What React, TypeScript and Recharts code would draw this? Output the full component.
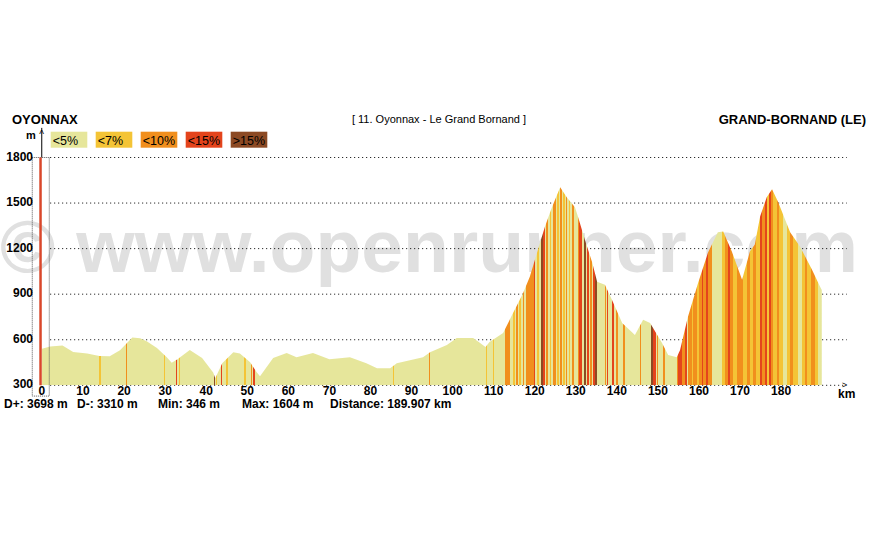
import React from 'react';
import { ComposedChart, Area, XAxis, YAxis, ReferenceLine, ReferenceArea } from 'recharts';

const FONT = '"Liberation Sans", Arial, Helvetica, sans-serif';

// distance along the route (km) and elevation (m), read from the profile
const kmPoints = [
  0, 2, 5, 7.6, 11, 14, 16.5, 19, 20.7, 22, 23.9, 25.5, 28, 30.4, 31.6, 33, 36, 39, 41.7, 42.2,
  43.9, 46.6, 48.2, 50.7, 52.3, 53.1, 56.3, 59.6, 62, 66, 70, 75, 79, 81.6, 84.8, 86.4, 92.8, 94.5,
  98.6, 101, 105, 106.7, 108, 109, 112.3, 114.5, 116, 117.2, 118.8, 120.8, 122.5, 124.2, 126.2,
  127.8, 129.8, 130.5, 132.2, 134, 135.2, 137.1, 138.8, 141.3, 144.4, 146.4, 148.1, 151, 152.5,
  154.6, 155.4, 157.3, 159.8, 162.2, 164.6, 165.9, 168, 170.5, 172.4, 173.6, 174.9, 176.5, 177.8,
  179.3, 182.2, 184.6, 187.5, 189.5, 189.907,
];
const elevation = [
  540, 555, 562, 520, 510, 493, 492, 530, 578, 615, 610, 590, 545, 485, 448, 472, 532, 480, 385, 346,
  446, 518, 510, 452, 386, 360, 479, 512, 485, 512, 472, 485, 446, 413, 413, 446, 485, 518,
  565, 611, 611, 578, 552, 585, 644, 764, 843, 909, 1015, 1194, 1346, 1472, 1604,
  1538, 1472, 1413, 1260, 1108, 982, 962, 863, 711, 631, 731, 711, 578, 499,
  485, 532, 750, 975, 1174, 1307, 1313, 1181, 995, 1181, 1227, 1413, 1538, 1591,
  1505, 1307, 1214, 1062, 949, 928,
];

// gradient strips: [start km, end km, category index]
const strips: [number, number, number][] = [
  [14.0, 14.3, 1], [20.4, 20.7, 2], [29.7, 30.0, 1], [32.6, 32.9, 3], [33.3, 33.6, 1],
  [41.9, 42.2, 4], [42.3, 42.7, 1], [43.6, 43.9, 3], [44.9, 45.2, 1], [49.3, 49.6, 1],
  [50.9, 51.2, 2], [51.5, 51.8, 3], [85.4, 85.7, 1], [93.9, 94.1, 1], [94.3, 94.6, 2],
  [108.1, 108.4, 1], [109.8, 110.1, 1], [112.8, 114.1, 2], [114.8, 115.1, 1], [115.4, 115.9, 2],
  [116.2, 116.6, 1], [117.1, 117.5, 2], [117.9, 119.8, 2], [119.8, 120.1, 3], [120.6, 121.1, 1],
  [121.6, 122.1, 4], [122.1, 122.6, 3], [122.7, 123.3, 2], [123.7, 124.0, 1], [124.4, 125.2, 2],
  [125.5, 125.8, 1], [126.1, 126.6, 2], [127.0, 127.3, 1], [127.6, 127.9, 2], [128.4, 128.7, 1],
  [129.2, 129.6, 2], [130.5, 130.9, 2], [130.9, 131.6, 3], [132.1, 132.6, 4], [132.7, 133.2, 3],
  [133.5, 133.9, 2], [134.3, 134.7, 3], [134.7, 135.1, 4], [137.0, 137.3, 2], [137.5, 137.9, 3],
  [138.9, 139.2, 3], [139.9, 140.4, 2], [141.6, 142.0, 2], [145.6, 145.9, 2], [148.3, 148.9, 4],
  [148.9, 149.5, 3], [149.7, 150.1, 2], [151.3, 151.7, 2], [154.6, 155.0, 2], [155.0, 155.8, 3],
  [155.8, 156.6, 2], [156.6, 157.2, 3], [157.4, 158.2, 2], [158.2, 158.6, 1], [158.6, 159.4, 2],
  [159.4, 160.0, 1], [160.0, 160.7, 2], [160.7, 161.1, 3], [161.1, 161.6, 2], [161.6, 162.3, 3],
  [162.3, 163.1, 2], [164.3, 164.5, 1], [165.5, 166.3, 1], [166.3, 167.0, 2], [167.0, 167.6, 3],
  [167.6, 168.4, 2], [168.4, 169.2, 1], [169.2, 170.8, 2], [170.8, 171.6, 1], [171.6, 172.4, 2],
  [172.4, 173.2, 1], [173.2, 174.0, 2], [174.0, 174.9, 1], [174.9, 175.4, 3], [175.4, 176.0, 2],
  [176.0, 176.5, 3], [176.5, 177.0, 1], [177.0, 177.5, 3], [177.5, 178.1, 2], [178.1, 178.9, 1],
  [178.9, 179.6, 2], [179.6, 180.5, 1], [181.4, 182.2, 1], [182.2, 183.0, 2], [183.0, 184.2, 1],
  [185.0, 185.8, 1], [185.8, 186.2, 2], [186.2, 187.4, 1], [187.4, 188.3, 2], [188.3, 189.1, 1],
];

const categoryLabels = ['<5%', '<7%', '<10%', '<15%', '>15%'];
const categoryColors = ['#e6e69b', '#f4c436', '#f18f1d', '#e4441c', '#8c4a24'];

const xTicks = [0, 10, 20, 30, 40, 50, 60, 70, 80, 90, 100, 110, 120, 130, 140, 150, 160, 170, 180];
const yTicks = [300, 600, 900, 1200, 1500, 1800];
const gridLevels = [600, 900, 1200, 1500, 1800];

const startName = 'OYONNAX';
const endName = 'GRAND-BORNAND (LE)';
const stageTitle = '[ 11. Oyonnax - Le Grand Bornand ]';
const statTexts = ['D+: 3698 m', 'D-: 3310 m', 'Min: 346 m', 'Max: 1604 m', 'Distance: 189.907 km'];
const statX = [4, 77, 158, 242, 330];

const X_DOMAIN: [number, number] = [-2.5, 196];
const Y_DOMAIN: [number, number] = [300, 1800];

const XTick = (props: any) => (
  <text x={props.x} y={props.y + 10} textAnchor="middle" fontFamily={FONT} fontWeight="bold" fontSize={12} fill="#000">
    {props.payload.value}
  </text>
);
const YTick = (props: any) => (
  <text x={props.x + 1.3} y={props.y + 3} textAnchor="end" fontFamily={FONT} fontWeight="bold" fontSize={12} fill="#000">
    {props.payload.value}
  </text>
);

export default function App() {
  const data = kmPoints.map((km, i) => ({ km, ele: elevation[i] }));
  const k0 = kmPoints[0];
  const total = kmPoints[kmPoints.length - 1] - k0;
  const base = categoryColors[0];
  const stops: React.ReactNode[] = [];
  let n = 0;
  const push = (off: number, color: string) =>
    stops.push(<stop key={n++} offset={Math.min(1, Math.max(0, off))} stopColor={color} />);
  push(0, base);
  strips.forEach(([a, b, c]) => {
    const oa = (a - k0) / total;
    const ob = (b - k0) / total;
    push(oa, base);
    push(oa, categoryColors[c]);
    push(ob, categoryColors[c]);
    push(ob, base);
  });
  push(1, base);

  return (
    <div style={{ position: 'absolute', left: 0, top: 0, width: 873, height: 540, background: '#fff', overflow: 'hidden' }}>
      <svg width={873} height={540} style={{ position: 'absolute', left: 0, top: 0 }}>
        <text x={0} y={272} fontFamily={FONT} fontWeight="bold" fontSize={75} fill="#e0e0e0" textLength={858} lengthAdjust="spacingAndGlyphs">
          © www.openrunner.com
        </text>
      </svg>
      {/* background layer: dotted grid, drawn beneath the profile */}
      <div style={{ position: 'absolute', left: 0, top: 0 }}>
        <ComposedChart width={873} height={540} data={data} margin={{ top: 157.5, right: 26.2, bottom: 154.7, left: 31.7 }}>
          <XAxis dataKey="km" type="number" domain={X_DOMAIN} hide allowDataOverflow />
          <YAxis type="number" domain={Y_DOMAIN} hide allowDataOverflow />
          {gridLevels.map((lv) => (
            <ReferenceLine
              key={lv}
              segment={[{ x: 2, y: lv }, { x: 196, y: lv }]}
              stroke="#000"
              strokeDasharray="1 3"
              strokeWidth={1}
            />
          ))}
          <ReferenceLine segment={[{ x: 2, y: 300 }, { x: 195.5, y: 300 }]} stroke="#000" strokeDasharray="1 3" strokeWidth={1} />
        </ComposedChart>
      </div>
      <div style={{ position: 'absolute', left: 0, top: 0 }}>
        <ComposedChart width={873} height={540} data={data} margin={{ top: 157.5, right: 26.2, bottom: 134.7, left: 0 }}>
          <defs>
            <linearGradient id="slopeFill" x1="0" y1="0" x2="1" y2="0">
              {stops}
            </linearGradient>
          </defs>
          <XAxis
            dataKey="km"
            type="number"
            domain={X_DOMAIN}
            ticks={xTicks}
            axisLine={false}
            tickLine={false}
            tickSize={0}
            tickMargin={0}
            height={20}
            tick={<XTick />}
            interval={0}
            allowDataOverflow
          />
          <YAxis
            type="number"
            domain={Y_DOMAIN}
            ticks={yTicks}
            axisLine={false}
            tickLine={false}
            tickSize={0}
            tickMargin={0}
            width={31.7}
            tick={<YTick />}
            interval={0}
            allowDataOverflow
          />
          <Area
            type="linear"
            dataKey="ele"
            stroke="none"
            fill="url(#slopeFill)"
            fillOpacity={1}
            isAnimationActive={false}
            dot={false}
            activeDot={false}
          />
          <ReferenceArea x1={-2.36} x2={1.78} y1={229} y2={1800} fill="none" stroke="#555" strokeDasharray="1 1" ifOverflow="visible" />
          <ReferenceLine segment={[{ x: -0.05, y: 1800 }, { x: -0.05, y: 1995 }]} stroke="#000" strokeWidth={1} ifOverflow="visible" />
          <ReferenceLine segment={[{ x: -0.35, y: 300 }, { x: -0.35, y: 1800 }]} stroke="#d9472b" strokeWidth={2.5} ifOverflow="visible" />
        </ComposedChart>
      </div>
      <svg width={873} height={540} style={{ position: 'absolute', left: 0, top: 0, pointerEvents: 'none' }}>
        <text x={12} y={124} fontFamily={FONT} fontWeight="bold" fontSize={13} fill="#000">{startName}</text>
        <text x={439} y={123} textAnchor="middle" fontFamily={FONT} fontSize={11} fill="#000">{stageTitle}</text>
        <text x={866} y={124} textAnchor="end" fontFamily={FONT} fontWeight="bold" fontSize={13} fill="#000">{endName}</text>
        <text x={26} y={139} fontFamily={FONT} fontWeight="bold" fontSize={11} fill="#000">m</text>
        <text x={41.7} y={138} textAnchor="middle" fontFamily={FONT} fontSize={10} fill="#000">^</text>
        {categoryLabels.map((lab, i) => (
          <g key={lab}>
            <rect x={50.7 + i * 45} y={131.7} width={36.6} height={16} fill={categoryColors[i]} />
            <text x={52.7 + i * 45} y={144.5} fontFamily={FONT} fontSize={12.5} fill="#000">{lab}</text>
          </g>
        ))}
        {statTexts.map((s, i) => (
          <text key={s} x={statX[i]} y={408} fontFamily={FONT} fontWeight="bold" fontSize={12} fill="#000">{s}</text>
        ))}
        <text x={842} y={388} fontFamily={FONT} fontSize={9} fill="#000">&gt;</text>
        <text x={838} y={398} fontFamily={FONT} fontWeight="bold" fontSize={12} fill="#000">km</text>
      </svg>
    </div>
  );
}
